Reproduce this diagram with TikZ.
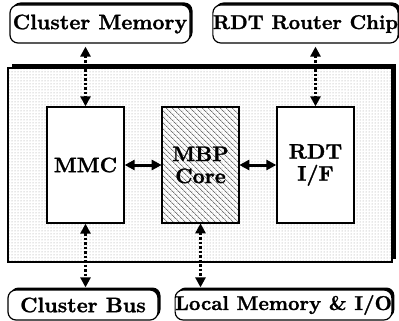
\documentclass[tikz,border=0pt]{standalone}
\usepackage{fontspec}
\newfontfamily\heavy{lmroman10-bold}[Extension=.otf, FakeBold=1.2]
\usetikzlibrary{arrows.meta,patterns,patterns.meta,shadows}
\begin{document}
\begin{tikzpicture}[x=1pt,y=-1pt,
  lbl/.style={font=\fontsize{21}{22}\selectfont\heavy},
  namebox/.style={draw, line width=1.2pt, rounded corners=8pt, fill=white, inner sep=0pt,
    drop shadow={shadow xshift=2.5pt, shadow yshift=2.5pt, fill=black, opacity=1}, lbl},
  unit/.style={draw, line width=1.3pt, inner sep=0pt, minimum width=77pt, minimum height=116pt,
    align=center, lbl},
  dotarrow/.style={line width=3.5pt, dash pattern=on 2.5pt off 2pt,
    {Triangle[width=10pt,length=10pt]}-{Triangle[width=10pt,length=10pt]}},
  solarrow/.style={line width=3pt,
    {Triangle[width=10pt,length=10pt]}-{Triangle[width=10pt,length=10pt]}}
]
\useasboundingbox (0,0) rectangle (399,321);
% outer box with shadow
\fill[black] (11.5,64.5) rectangle (395.5,258.5);
\fill[white] (8,68) rectangle (392,262);
\fill[pattern=dots, pattern color=black!40] (8,68) rectangle (392,262);
\draw[line width=1.2pt] (8,68) rectangle (392,262);
\node[namebox, minimum width=180pt, minimum height=38pt] (cm) at (100,24) {Cluster Memory};
\node[namebox, minimum width=183pt, minimum height=38pt] (rr) at (305.5,24) {\fontsize{20}{21}\selectfont RDT Router Chip};
\node[namebox, minimum width=150pt, minimum height=30pt] (cb) at (83,305) {Cluster Bus};
\node[namebox, minimum width=215pt, minimum height=30pt] (lm) at (283.5,305) {\fontsize{20}{21}\selectfont Local Memory \& I/O};
\node[unit, fill=white] (mmc) at (85.5,165) {MMC};
\node[unit, pattern={Lines[angle=-45,distance=4pt,line width=0.6pt]}, pattern color=black!80] (mbp) at (200.5,165) {};
\node[lbl, align=center] (mbpt) at (mbp.center) {MBP\\Core};
\node[unit, fill=white] (rdt) at (315.5,165) {RDT\\I/F};
\draw[dotarrow, shorten <=3pt] (mmc.north |- cm.south) -- (mmc.north);
\draw[dotarrow, shorten <=3pt] (rdt.north |- rr.south) -- (rdt.north);
\draw[dotarrow, shorten >=2pt] (mmc.south) -- (mmc.south |- cb.north);
\draw[dotarrow, shorten >=2pt] (mbp.south) -- (mbp.south |- lm.north);
\draw[solarrow] (mmc.east) -- (mbp.west);
\draw[solarrow] (mbp.east) -- (rdt.west);
\end{tikzpicture}
\end{document}
